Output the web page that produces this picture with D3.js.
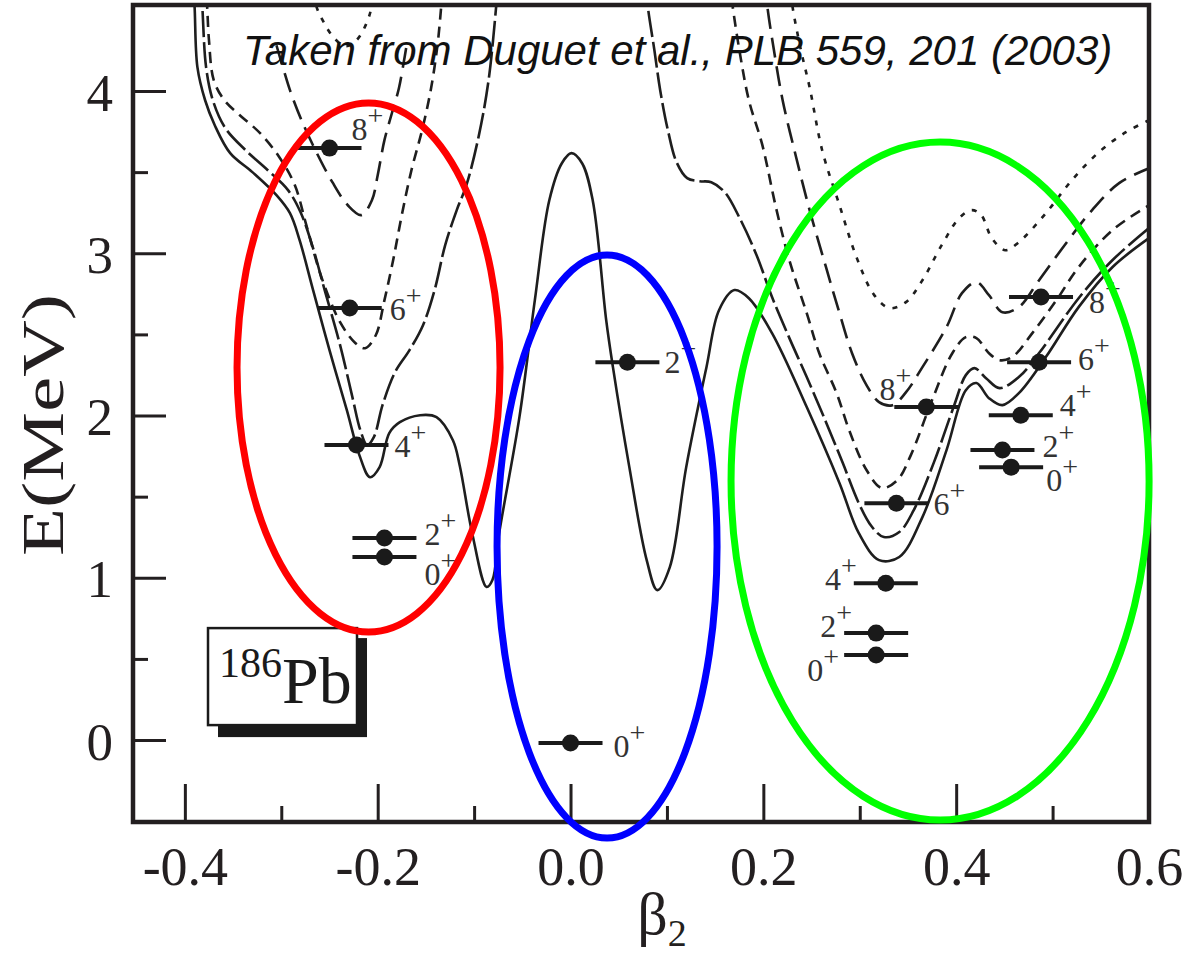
<!DOCTYPE html>
<html>
<head>
<meta charset="utf-8">
<script src="https://cdn.jsdelivr.net/npm/d3@7"></script>
<style>
  body { margin: 0; background: #fff; }
  svg { display: block; }
</style>
</head>
<body>
<div class="canvas"></div>
<script>
// projected energy curves, [beta2, E(MeV)]
const j0 = [[-0.392,4.683],[-0.390,4.529],[-0.387,4.147],[-0.379,3.943],[-0.369,3.789],[-0.353,3.617],
  [-0.330,3.500],[-0.305,3.358],[-0.291,3.247],[-0.281,3.081],[-0.267,2.773],[-0.250,2.403],[-0.232,2.033],
  [-0.219,1.756],[-0.208,1.620],[-0.198,1.682],[-0.188,1.892],[-0.177,1.959],[-0.156,2.002],[-0.139,1.990],
  [-0.122,1.848],[-0.115,1.694],[-0.102,1.275],[-0.087,0.943],[-0.081,0.986],[-0.074,1.275],[-0.053,1.990],
  [-0.037,2.711],[-0.022,3.327],[-0.009,3.555],[0.001,3.617],[0.012,3.555],[0.023,3.327],[0.037,2.588],
  [0.044,2.298],[0.061,1.682],[0.079,1.109],[0.090,0.924],[0.103,1.066],[0.120,1.682],[0.141,2.298],
  [0.154,2.649],[0.170,2.773],[0.185,2.723],[0.209,2.508],[0.245,2.052],[0.279,1.583],[0.299,1.275],
  [0.320,1.109],[0.341,1.128],[0.365,1.374],[0.390,1.787],[0.410,2.156],[0.421,2.200],[0.434,2.107],
  [0.448,2.064],[0.465,2.138],[0.493,2.360],[0.527,2.668],[0.562,2.914],[0.600,3.093]];

const j2Oblate = [[-0.384,4.683],[-0.382,4.529],[-0.378,4.147],[-0.371,3.943],[-0.358,3.771],[-0.337,3.635],
  [-0.314,3.512],[-0.293,3.389],[-0.280,3.253],[-0.268,3.050],[-0.255,2.773],[-0.239,2.434],[-0.226,2.107],
  [-0.218,1.910],[-0.211,1.818],[-0.204,1.867],[-0.195,2.064],[-0.182,2.267],[-0.167,2.403],[-0.153,2.557],
  [-0.141,2.773],[-0.130,3.050],[-0.118,3.266],[-0.108,3.420],[-0.095,3.728],[-0.085,4.066],[-0.077,4.529],
  [-0.075,4.683]];
const j2Prolate = [[0.078,4.683],[0.080,4.529],[0.087,4.251],[0.093,4.005],[0.101,3.758],[0.110,3.561],
  [0.121,3.463],[0.134,3.444],[0.146,3.438],[0.160,3.376],[0.175,3.222],[0.193,2.988],[0.209,2.730],
  [0.227,2.477],[0.245,2.237],[0.265,1.959],[0.282,1.713],[0.299,1.460],[0.312,1.319],[0.325,1.251],
  [0.341,1.282],[0.356,1.417],[0.377,1.713],[0.398,2.064],[0.410,2.249],[0.419,2.292],[0.431,2.230],
  [0.445,2.169],[0.465,2.237],[0.486,2.385],[0.527,2.723],[0.562,2.957],[0.600,3.155]];

const j4Oblate = [[-0.379,4.683],[-0.377,4.529],[-0.375,4.313],[-0.370,4.066],[-0.359,3.943],[-0.343,3.851],
  [-0.322,3.740],[-0.302,3.592],[-0.286,3.420],[-0.274,3.173],[-0.258,2.847],[-0.239,2.575],[-0.223,2.446],
  [-0.213,2.415],[-0.202,2.495],[-0.193,2.711],[-0.184,2.957],[-0.175,3.235],[-0.165,3.512],[-0.154,3.758],
  [-0.145,4.005],[-0.138,4.282],[-0.134,4.529],[-0.132,4.683]];
const j4Prolate = [[0.165,4.683],[0.168,4.529],[0.176,4.221],[0.185,3.943],[0.199,3.666],[0.213,3.284],
  [0.227,2.957],[0.245,2.631],[0.258,2.384],[0.276,2.138],[0.289,1.910],[0.307,1.664],[0.323,1.553],
  [0.339,1.602],[0.353,1.756],[0.375,2.095],[0.396,2.384],[0.410,2.483],[0.421,2.477],[0.434,2.384],
  [0.445,2.341],[0.458,2.360],[0.479,2.508],[0.504,2.711],[0.527,2.914],[0.562,3.142],[0.600,3.296]];

const j6Oblate = [[-0.305,4.282],[-0.298,4.140],[-0.291,4.005],[-0.279,3.820],[-0.262,3.604],[-0.247,3.438],
  [-0.231,3.296],[-0.217,3.235],[-0.206,3.327],[-0.200,3.481],[-0.193,3.697],[-0.185,3.869],[-0.178,4.017],
  [-0.173,4.177],[-0.170,4.282]];
const j6Prolate = [[0.202,4.683],[0.204,4.529],[0.211,4.251],[0.220,3.943],[0.234,3.592],[0.248,3.266],
  [0.265,2.914],[0.279,2.631],[0.292,2.384],[0.307,2.187],[0.320,2.083],[0.334,2.064],[0.348,2.144],
  [0.365,2.298],[0.390,2.545],[0.406,2.754],[0.421,2.822],[0.434,2.742],[0.448,2.637],[0.465,2.668],
  [0.486,2.834],[0.514,3.062],[0.541,3.266],[0.569,3.432],[0.600,3.524]];

const j8Oblate = [[-0.267,4.683],[-0.264,4.529],[-0.256,4.424],[-0.245,4.325],[-0.233,4.276],[-0.222,4.313],
  [-0.212,4.412],[-0.206,4.529],[-0.204,4.683]];
const j8Prolate = [[0.227,4.683],[0.230,4.529],[0.239,4.251],[0.248,4.023],[0.261,3.635],[0.279,3.296],
  [0.297,2.970],[0.315,2.742],[0.331,2.662],[0.348,2.699],[0.365,2.834],[0.385,3.050],[0.403,3.216],
  [0.416,3.266],[0.426,3.235],[0.437,3.093],[0.451,3.019],[0.465,3.068],[0.493,3.247],[0.520,3.450],
  [0.548,3.623],[0.576,3.746],[0.600,3.820]];

// GCM levels: spin, mean deformation, energy
const levelSpin = [0, 2, 4, 6, 8, 0, 2, 0, 2, 4, 6, 8, 0, 2, 4, 6, 8];
const levelBeta = [-0.193, -0.193, -0.222, -0.229, -0.250, 0.000, 0.059,
  0.317, 0.317, 0.327, 0.338, 0.369, 0.457, 0.448, 0.467, 0.486, 0.488];
const levelE = [1.128, 1.245, 1.818, 2.662, 3.648, -0.018, 2.329,
  0.524, 0.659, 0.967, 1.460, 2.052, 1.682, 1.787, 2.002, 2.329, 2.730];

// where each level label sits: side of the bar, nudge in px
const labelSide = ['r','r','r','r','r','r','r','l','l','l','r','l','r','r','r','r','r'];
const labelDx = [8, 8, 6, 8, -10, 11, 5, -5, 8, 3, 5, 17, 3, 8, 7, 7, 16];
const labelDy = [28, 7, 12, 12, -8, 14, 11, 26, 4, 7, 12, -7, 24, 7, 1, 8, 16];

// ticks
const xMajor = [-0.4, -0.2, 0, 0.2, 0.4, 0.6];
const xMinor = [-0.3, -0.1, 0.1, 0.3, 0.5];
const yMajor = [0, 1, 2, 3, 4];
const yMinor = [0.5, 1.5, 2.5, 3.5];

// highlighted regions: centre (beta, E) and half axes
const regionBeta = [-0.2095, 0.0379, 0.3833];
const regionE = [2.296, 1.1925, 1.596];
const regionRBeta = [0.1364, 0.1141, 0.2168];
const regionRE = [1.630, 1.7965, 2.089];
const regionColor = ['#ff0000', '#0000ff', '#00ff00'];

const ink = '#231f20';
const serif = '"Liberation Serif", "Times New Roman", serif';

const svg = d3.select('.canvas')
  .append('svg')
  .attr('width', 1194)
  .attr('height', 958);

const x = d3.scaleLinear().domain([-0.4538, 0.6]).range([133, 1149]);
const y = d3.scaleLinear().domain([-0.505, 4.53]).range([822, 5]);

svg.append('clipPath').attr('id', 'plot')
  .append('rect')
  .attr('x', 133).attr('y', 5)
  .attr('width', 1016).attr('height', 817);

const series = [
  { data: j0, dash: null },
  { data: j2Oblate, dash: '26,5' },
  { data: j2Prolate, dash: '26,5' },
  { data: j4Oblate, dash: '11,7' },
  { data: j4Prolate, dash: '11,7' },
  { data: j6Oblate, dash: '20,9' },
  { data: j6Prolate, dash: '20,9' },
  { data: j8Oblate, dash: '5,8' },
  { data: j8Prolate, dash: '5,8' }
];

const line = d3.line()
  .x(d => x(d[0]))
  .y(d => y(d[1]))
  .curve(d3.curveCatmullRom.alpha(0.5));

svg.append('g')
  .attr('clip-path', 'url(#plot)')
  .selectAll('path')
  .data(series)
  .enter()
  .append('path')
  .attr('d', d => line(d.data))
  .attr('fill', 'none')
  .attr('stroke', '#1e1e1e')
  .attr('stroke-width', 2.6)
  .attr('stroke-dasharray', d => d.dash);

// levels
const barHalf = 32;
const levels = svg.append('g');
levelSpin.forEach((J, i) => {
  const cx = x(levelBeta[i]);
  const cy = y(levelE[i]);
  levels.append('line')
    .attr('x1', cx - barHalf).attr('x2', cx + barHalf)
    .attr('y1', cy).attr('y2', cy)
    .attr('stroke', '#1a1a1a')
    .attr('stroke-width', 4);
  levels.append('circle')
    .attr('cx', cx).attr('cy', cy)
    .attr('r', 8.5)
    .attr('fill', '#1a1a1a');

  const right = labelSide[i] === 'r';
  const t = levels.append('text')
    .attr('x', (right ? cx + barHalf : cx - barHalf) + labelDx[i])
    .attr('y', cy + labelDy[i])
    .attr('text-anchor', right ? 'start' : 'end')
    .attr('font-family', serif)
    .attr('font-size', 32)
    .attr('fill', '#333')
    .text(J);
  t.append('tspan')
    .attr('font-size', 28)
    .attr('dy', -15)
    .text('+');
});

// axes, ticks pointing inward
const fmt = d => d.toFixed(1);
const styleAxis = g => {
  g.select('.domain').remove();
  g.selectAll('line').attr('stroke', ink).attr('stroke-width', 3);
  g.selectAll('text')
    .attr('fill', ink)
    .attr('font-family', serif);
};

svg.append('g')
  .attr('transform', 'translate(0,822)')
  .call(d3.axisBottom(x).tickValues(xMajor).tickSize(-38).tickPadding(25).tickFormat(fmt))
  .call(styleAxis)
  .selectAll('text').attr('font-size', 54);

svg.append('g')
  .attr('transform', 'translate(0,822)')
  .call(d3.axisBottom(x).tickValues(xMinor).tickSize(-16).tickFormat(''))
  .call(styleAxis);

svg.append('g')
  .attr('transform', 'translate(133,0)')
  .call(d3.axisLeft(y).tickValues(yMajor).tickSize(-33).tickPadding(20).tickFormat(d3.format('d')))
  .call(styleAxis)
  .selectAll('text').attr('font-size', 53).attr('dy', '0.36em');

svg.append('g')
  .attr('transform', 'translate(133,0)')
  .call(d3.axisLeft(y).tickValues(yMinor).tickSize(-15).tickFormat(''))
  .call(styleAxis);

// frame
svg.append('rect')
  .attr('x', 133).attr('y', 5)
  .attr('width', 1016).attr('height', 817)
  .attr('fill', 'none')
  .attr('stroke', ink)
  .attr('stroke-width', 4.5);

// axis titles
svg.append('text')
  .attr('transform', 'translate(63,425) rotate(-90)')
  .attr('text-anchor', 'middle')
  .attr('font-family', serif)
  .attr('font-size', 60)
  .attr('fill', ink)
  .attr('textLength', 262)
  .attr('lengthAdjust', 'spacingAndGlyphs')
  .text('E(MeV)');

const xt = svg.append('text')
  .attr('x', 662).attr('y', 934)
  .attr('text-anchor', 'middle')
  .attr('font-family', serif)
  .attr('font-size', 60)
  .attr('fill', ink)
  .text('β');
xt.append('tspan').attr('font-size', 38).attr('dy', 12).text('2');

// nucleus box with drop shadow
const bx = x(-0.376), by = y(0.69);
svg.append('rect')
  .attr('x', bx + 10).attr('y', by + 10)
  .attr('width', 149).attr('height', 99)
  .attr('fill', '#1a1a1a');
svg.append('rect')
  .attr('x', bx).attr('y', by)
  .attr('width', 149).attr('height', 97)
  .attr('fill', '#fff')
  .attr('stroke', '#1a1a1a')
  .attr('stroke-width', 2.5);
const pb = svg.append('text')
  .attr('x', bx + 11).attr('y', by + 75)
  .attr('font-family', serif)
  .attr('fill', '#1a1a1a');
pb.append('tspan').attr('font-size', 42).attr('dy', -26).text('186');
pb.append('tspan').attr('font-size', 66).attr('dy', 26).text('Pb');

// source note
svg.append('text')
  .attr('x', 243).attr('y', 65)
  .attr('font-family', '"Liberation Sans", Arial, sans-serif')
  .attr('font-style', 'italic')
  .attr('font-size', 42)
  .attr('fill', '#111')
  .text('Taken from Duguet et al., PLB 559, 201 (2003)');

// highlight ellipses
svg.append('g')
  .selectAll('ellipse')
  .data(regionBeta)
  .enter()
  .append('ellipse')
  .attr('cx', (d, i) => x(d))
  .attr('cy', (d, i) => y(regionE[i]))
  .attr('rx', (d, i) => x(d + regionRBeta[i]) - x(d))
  .attr('ry', (d, i) => y(regionE[i]) - y(regionE[i] + regionRE[i]))
  .attr('fill', 'none')
  .attr('stroke', (d, i) => regionColor[i])
  .attr('stroke-width', 7);
</script>
</body>
</html>
